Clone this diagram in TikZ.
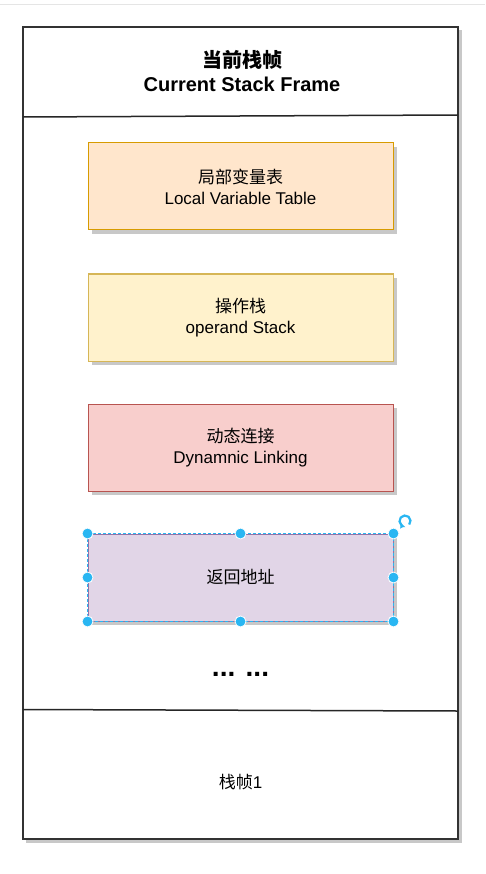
\documentclass[tikz,border=0pt]{standalone}
\usepackage{fontspec}
\setmainfont{Liberation Sans}
\newfontfamily\cjk{Noto Sans CJK SC}
\usetikzlibrary{arrows.meta}
\definecolor{shadowgray}{HTML}{C8C8C8}
\definecolor{frameline}{HTML}{333333}
\definecolor{orfill}{HTML}{FFE6CC}\definecolor{ordraw}{HTML}{D79B00}
\definecolor{yefill}{HTML}{FFF2CC}\definecolor{yedraw}{HTML}{D6B656}
\definecolor{refill}{HTML}{F8CECC}\definecolor{redraw}{HTML}{B85450}
\definecolor{pufill}{HTML}{E1D5E7}\definecolor{pudraw}{HTML}{9673A6}
\definecolor{handle}{HTML}{29B6F2}
\tikzset{
  x=1pt, y=-1pt,
  partbox/.style={minimum width=305pt, minimum height=87pt, inner sep=0pt, line width=1pt, align=center, font=\fontsize{17}{21}\selectfont},
  boxshadow/.style={fill=shadowgray, draw=none},
  hdl/.style={circle, fill=handle, draw=white, line width=0.8pt, minimum size=11pt, inner sep=0pt},
}
\begin{document}
\begin{tikzpicture}
\useasboundingbox (0,0) rectangle (485,874);
\fill[white] (0,0) rectangle (485,874);
\draw[color=black!10, line width=1pt] (0,4.5) -- (485,4.5);
% outer frame shadow + frame
\fill[shadowgray] (26,30) rectangle (462,843);
\draw[frameline, fill=white, line width=1.5pt] (23,27) rectangle (458,839);
\coordinate (tl) at (23,117);
\coordinate (tr) at (458,115);
\coordinate (bl) at (23,709.5);
\coordinate (br) at (458,711);
\draw[black!85, line width=1.5pt] (tl) -- (tr);
\draw[black!85, line width=1.5pt] (bl) -- (br);
\node[font=\fontsize{20}{24}\selectfont\bfseries, align=center] (title) at (242,71)
  {{\cjk\bfseries 当前栈帧}\\Current Stack Frame};
% shadows
\fill[boxshadow] (92,147) rectangle (397,234);
\fill[boxshadow] (92,278) rectangle (397,365);
\fill[boxshadow] (92,408) rectangle (397,495);
\fill[boxshadow] (92,538) rectangle (397,625);
\node[partbox, fill=orfill, draw=ordraw] (lvt) at (240.5,186.5) {{\cjk 局部变量表}\\Local Variable Table};
\node[partbox, fill=yefill, draw=yedraw] (ops) at (240.5,317.5) {{\cjk 操作栈}\\operand Stack};
\node[partbox, fill=refill, draw=redraw] (dyn) at (240.5,447.5) {{\cjk 动态连接}\\Dynamnic Linking};
\node[partbox, fill=pufill, draw=pudraw] (ret) at (240.5,577.5) {{\cjk 返回地址}};
\draw[handle, line width=0.8pt, dash pattern=on 3pt off 2pt] (ret.north west) rectangle (ret.south east);
\foreach \a in {north west, north, north east, west, east, south west, south, south east}
  \node[hdl] at (ret.\a) {};
\coordinate (rot) at (405,521);
\draw[handle, line width=2.2pt, -{Triangle[length=3.5pt,width=5.5pt]}] ([shift={(40:5.5)}]rot) arc[start angle=40, end angle=-260, radius=5.5];
\node[font=\fontsize{28}{30}\selectfont\bfseries, anchor=base] (dots) at (240.5,676) {... ...};
\node[font=\fontsize{17}{20}\selectfont] (frame1) at (240.5,782) {{\cjk 栈帧}1};
\end{tikzpicture}
\end{document}
